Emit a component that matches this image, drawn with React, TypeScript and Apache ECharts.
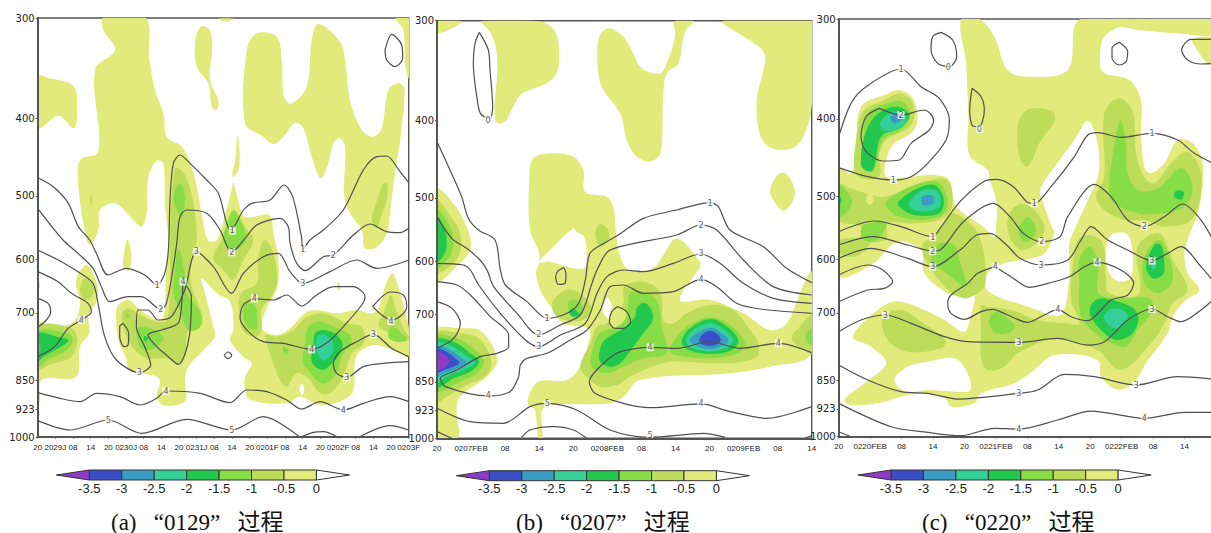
import React, { useEffect, useRef } from "react";
import * as echarts from "echarts";

type P = number[];
const pressureLevels = [300, 400, 500, 600, 700, 850, 923, 1000];
const colorLabels = ["-3.5", "-3", "-2.5", "-2", "-1.5", "-1", "-0.5", "0"];
const barColors = ["#8E3CC8", "#3B4FC4", "#3A9CC4", "#35D09A", "#22C84E", "#88DC45", "#BDDC5A", "#E3EA7C"];

const aTicks = ["20","2029J","08","14","20","0230J","08","14","20","0231J","08","14","20","0201F","08","14","20","0202F","08","14","20","0203F"];
const bTicks = ["20","0207FEB","08","14","20","0208FEB","08","14","20","0209FEB","08","14"];
const cTicks = ["20","0220FEB","08","14","20","0221FEB","08","14","20","0222FEB","08","14",""];

// ---------- panel (a): areas, horizontal position along the time axis, vertical = log-pressure coordinate
const aYellow: P[][] = [
[[113,230],[150,235],[220,258],[231,320],[222,385],[175,347],[113,385]],
[[310,54],[437,54],[447,170],[465,270],[490,340],[500,410],[545,440],[575,500],[592,570],[606,650],[625,722],[648,722],[665,680],[700,545],[697,520],[706,480],[712,405],[718,440],[716,510],[700,535],[712,590],[735,650],[808,645],[820,700],[835,780],[832,860],[800,925],[785,985],[830,1005],[875,980],[915,940],[950,930],[1010,940],[1070,930],[1115,940],[1135,925],[1155,860],[1177,820],[1195,860],[1215,935],[1226,980],[1226,1070],[1200,1060],[1130,1035],[1085,1050],[1065,1080],[1060,1170],[1030,1200],[960,1215],[900,1190],[860,1210],[750,1200],[735,1170],[735,1130],[755,1090],[730,1070],[690,1020],[700,990],[690,905],[650,880],[605,835],[615,880],[640,980],[645,1010],[610,1050],[565,1100],[555,1140],[558,1200],[530,1215],[490,1215],[470,1190],[480,1145],[470,1130],[420,1120],[385,1110],[380,1080],[355,1020],[348,945],[355,915],[385,900],[420,930],[470,960],[490,950],[498,820],[505,720],[495,620],[490,490],[470,482],[445,530],[440,640],[425,680],[400,660],[345,610],[300,630],[295,690],[270,735],[258,712],[235,560],[240,480],[295,455],[285,210],[345,150],[310,90]],
[[382,718],[395,770],[385,812],[370,800],[372,760]],
[[585,130],[600,82],[625,85],[637,130],[630,240],[655,300],[650,330],[635,320],[625,250],[590,200]],
[[655,56],[700,56],[680,65]],
[[735,370],[740,150],[770,100],[830,110],[845,180],[852,290],[875,310],[920,260],[935,120],[955,72],[1020,125],[1035,180],[1050,300],[1085,390],[1120,410],[1145,385],[1165,270],[1195,250],[1213,265],[1203,400],[1185,520],[1170,640],[1160,700],[1130,742],[1095,745],[1085,690],[1050,640],[1033,590],[1035,440],[1020,415],[1000,430],[985,490],[962,535],[935,470],[910,385],[885,368],[850,410],[820,432],[790,410]],
[[1187,54],[1226,54],[1226,235],[1215,190],[1210,90]],
[[113,960],[135,975],[215,970],[240,915],[228,840],[260,795],[290,850],[290,905],[265,945],[268,1000],[240,1040],[228,1130],[125,1140],[120,1205],[113,1205]],
[[113,830],[120,855],[113,880]],
[[1015,845],[1022,868],[1012,868]],
];
const aWhite: P[][] = [[[905,1150],[913,1168],[906,1186],[899,1168]]];
const aOlive: P[][] = [
[[510,720],[525,505],[552,520],[578,600],[590,720],[572,780],[575,860],[590,900],[607,950],[600,980],[565,990],[555,1060],[535,1095],[500,1075],[440,1075],[400,1045],[375,1000],[365,945],[385,925],[420,945],[470,965],[500,960],[510,840]],
[[700,630],[735,680],[760,720],[725,790],[700,840],[670,810],[640,775],[665,720]],
[[795,720],[820,760],[832,840],[820,880],[785,930],[785,990],[770,1010],[735,1000],[720,960],[722,880],[770,850],[775,770]],
[[795,1005],[830,1010],[880,990],[915,955],[960,940],[1000,950],[1040,970],[1085,980],[1092,1030],[1055,1060],[1030,1130],[990,1180],[960,1180],[925,1135],[890,1120],[860,1160],[835,1130],[810,1060]],
[[1172,885],[1185,920],[1210,985],[1226,1010],[1226,1020],[1150,990],[1135,975],[1155,930]],
[[1150,550],[1162,550],[1160,600],[1140,660],[1130,685],[1115,660],[1125,620]],
[[273,585],[278,600],[273,618],[271,600]],
[[255,835],[275,850],[285,870],[265,900],[245,890],[240,865]],
[[113,980],[215,985],[232,1020],[215,1070],[160,1090],[113,1105]],
];
const aGreen15: P[][] = [
[[540,550],[555,590],[545,650],[525,615],[522,580]],
[[535,745],[552,810],[560,880],[590,920],[605,950],[598,985],[565,990],[540,930],[520,880],[525,810]],
[[412,985],[450,985],[490,1010],[480,1030],[450,1050],[420,1040]],
[[378,940],[390,948],[382,955]],
[[700,632],[725,670],[738,720],[700,752],[670,720],[685,660]],
[[735,915],[765,915],[772,960],[770,985],[745,985],[730,950]],
[[925,980],[960,965],[1000,980],[1050,1005],[1052,1035],[1030,1060],[1005,1125],[965,1150],[920,1105],[908,1085],[915,1030]],
[[850,1040],[865,1050],[860,1065],[850,1055]],
[[1175,980],[1205,1000],[1222,1020],[1190,1025],[1165,1010]],
[[113,995],[205,1000],[218,1020],[200,1050],[150,1075],[113,1100]],
];
const aGreen2: P[][] = [
[[432,1008],[445,1015],[435,1025]],
[[945,1000],[970,990],[1010,1005],[1028,1035],[1010,1075],[985,1100],[965,1110],[935,1085],[940,1040]],
[[113,1000],[170,1010],[205,1020],[175,1045],[130,1070],[113,1085]],
];
const aTeal: P[][] = [
[[955,1005],[985,1010],[1002,1040],[985,1075],[965,1080],[950,1050]],
[[113,1030],[122,1045],[113,1065]],
];
const aContours: P[][] = [
[[113,533],[160,560],[205,610],[235,680],[269,720],[289,760],[324,825],[379,805],[434,825],[471,855],[494,820],[505,750],[510,600],[520,490],[540,465],[570,490],[620,540],[655,580],[680,670],[692,690],[730,630],[755,610],[810,600],[852,555],[878,590],[905,715],[908,748],[930,720],[970,690],[1030,630],[1090,510],[1130,470],[1160,468],[1200,515],[1226,548]],
[[113,625],[189,720],[234,760],[279,805],[304,860],[329,905],[384,890],[424,890],[482,928],[499,910],[520,800],[530,730],[540,650],[560,630],[620,640],[660,690],[695,757],[735,715],[770,675],[840,655],[865,680],[870,730],[890,790],[915,812],[970,770],[1000,765],[1060,705],[1110,672],[1160,695],[1200,698],[1226,685]],
[[113,750],[184,785],[234,815],[279,850],[294,910],[314,1010],[349,1080],[418,1118],[452,1095],[434,1040],[409,980],[414,930],[444,930],[474,960],[514,950],[554,870],[589,755],[640,800],[695,880],[730,820],[790,770],[835,760],[870,815],[908,850],[990,815],[1070,780],[1130,805],[1226,780]],
[[113,815],[174,845],[214,880],[264,910],[274,935],[244,960],[204,985],[164,1040],[113,1070]],
[[113,895],[144,910],[152,935],[139,960],[113,982]],
[[549,845],[574,890],[569,1000],[554,1065],[535,1093],[505,1070],[470,1040],[444,1005],[484,990],[534,970],[544,920],[549,845]],
[[369,970],[386,1000],[384,1035],[372,1040],[359,1010],[359,980],[369,970]],
[[113,1178],[180,1195],[240,1205],[290,1180],[360,1190],[420,1215],[470,1195],[498,1173],[600,1180],[690,1208],[740,1170],[800,1175],[860,1200],[905,1227],[960,1205],[1030,1230],[1090,1210],[1170,1190],[1226,1205]],
[[113,1262],[210,1290],[325,1260],[425,1300],[560,1258],[695,1290],[790,1250],[900,1312]],
[[900,1312],[940,1297],[970,1295],[1010,1310]],
[[1080,1310],[1170,1277],[1226,1290]],
[[762,895],[730,915],[720,955],[745,995],[790,1025],[850,1030],[935,1048],[985,1025],[1030,980],[1085,915],[1095,890],[1060,860],[1000,860],[950,885],[905,918],[860,885],[820,900],[762,895]],
[[1118,920],[1170,876],[1210,885],[1220,920],[1205,945],[1175,960],[1145,945],[1118,920]],
[[1226,1070],[1175,1045],[1120,1003],[1070,1025],[1020,1055],[1000,1090],[1010,1120],[1040,1132],[1090,1100],[1150,1090],[1226,1085]],
[[672,1066],[684,1056],[695,1066],[684,1076],[672,1066]],
[[1155,150],[1175,103],[1205,135],[1208,175],[1185,200],[1160,180],[1155,150]],
];
const aLabels: P[] = [[697,692,1],[471,855,1],[908,748,1],[695,757,2],[482,928,2],[1000,765,2],[589,755,3],[418,1118,3],[908,850,3],[1120,1003,3],[1040,1132,3],[244,960,4],[549,845,4],[498,1173,4],[763,895,4],[1030,1230,4],[1173,963,4],[935,1048,4],[325,1260,5],[695,1290,5]];

// ---------- panel (b)
const bYellow: P[][] = [
[[81,62],[155,65],[81,100]],
[[215,64],[395,65],[435,95],[448,160],[440,220],[410,250],[360,270],[330,285],[305,330],[285,365],[255,362],[262,200],[255,130],[240,95]],
[[595,85],[640,110],[665,150],[695,205],[750,220],[770,190],[795,110],[795,62],[850,62],[825,95],[805,190],[770,220],[760,280],[755,440],[745,470],[715,485],[675,465],[650,420],[630,340],[575,260],[562,180],[568,110]],
[[940,62],[1205,62],[1205,320],[1180,410],[1145,445],[1085,445],[1050,405],[1040,300],[1060,210],[1065,165],[1040,135]],
[[1105,522],[1130,522],[1153,565],[1150,600],[1120,632],[1090,600],[1080,570]],
[[370,475],[430,460],[490,470],[520,510],[525,575],[590,590],[610,620],[618,700],[628,760],[650,805],[690,815],[735,800],[760,765],[800,715],[870,785],[870,800],[810,900],[900,900],[1000,940],[1080,990],[1130,970],[1170,880],[1205,815],[1205,1060],[1080,1100],[960,1120],[690,1140],[640,1190],[600,1210],[420,1215],[395,1235],[398,1315],[385,1315],[375,1230],[355,1215],[355,1190],[385,1145],[470,1140],[510,1100],[540,1010],[535,985],[460,970],[430,930],[395,880],[378,820],[388,785],[385,750],[360,690],[358,530]],
[[81,568],[130,610],[170,680],[182,720],[180,750],[150,790],[81,842]],
[[81,990],[150,985],[215,995],[262,1080],[230,1130],[150,1190],[140,1230],[143,1315],[81,1315]],
];
const bWhite: P[][] = [
[[388,787],[425,745],[490,685],[500,695],[522,710],[530,770],[525,803],[490,805],[420,785]],
[[592,893],[605,920],[595,955],[578,930]],
];
const bOlive: P[][] = [
[[81,605],[130,660],[150,700],[152,750],[130,790],[81,815]],
[[81,1000],[150,1000],[205,1015],[245,1085],[225,1130],[180,1150],[110,1190],[81,1205]],
[[470,870],[510,880],[545,925],[520,960],[470,960],[435,945],[428,905]],
[[570,672],[593,688],[596,720],[570,740],[556,700]],
[[640,862],[680,845],[730,855],[755,890],[760,960],[790,970],[830,940],[900,915],[970,930],[1020,990],[1045,1030],[1040,1070],[950,1090],[790,1085],[740,1095],[660,1130],[620,1155],[570,1160],[530,1130],[510,1100],[545,1020],[560,980],[590,970],[640,910]],
[[1205,945],[1165,985],[1145,1010],[1165,1040],[1205,1058]],
];
const bYellow2: P[][] = [[[600,950],[640,925],[645,965],[625,985],[600,975]]];
const bGreen15: P[][] = [
[[81,630],[120,680],[130,730],[118,770],[81,800]],
[[81,1010],[140,1015],[190,1045],[222,1085],[200,1120],[150,1145],[81,1172]],
[[475,905],[500,900],[520,925],[500,955],[480,945]],
[[660,880],[700,875],[740,900],[755,980],[770,1060],[700,1075],[640,1100],[590,1120],[545,1100],[545,1060],[570,1000],[620,980],[650,950]],
[[900,952],[960,975],[1005,1030],[985,1060],[900,1075],[830,1070],[780,1055],[800,1010],[840,975]],
[[1205,985],[1185,1010],[1205,1035]],
];
const bGreen2: P[][] = [
[[81,650],[105,690],[108,750],[81,785]],
[[81,1020],[140,1030],[180,1060],[208,1085],[180,1115],[130,1135],[81,1160]],
[[487,925],[497,930],[510,945],[490,950],[478,938]],
[[700,908],[722,925],[728,960],[700,1000],[670,1040],[630,1090],[600,1100],[570,1085],[572,1040],[590,1015],[640,985],[675,950],[680,925]],
[[900,957],[945,975],[985,1020],[965,1050],[900,1062],[835,1050],[815,1025],[840,985]],
];
const bTeal: P[][] = [
[[81,1030],[130,1040],[165,1065],[195,1088],[165,1108],[110,1130],[81,1145]],
[[900,970],[945,990],[970,1022],[945,1045],[900,1055],[850,1045],[828,1022],[850,990]],
];
const bSteel: P[][] = [
[[81,1040],[120,1050],[150,1070],[170,1088],[145,1105],[100,1120],[81,1130]],
[[900,983],[935,1000],[955,1022],[930,1040],[900,1047],[865,1040],[840,1022],[860,1000]],
];
const bBlue: P[][] = [
[[81,1048],[110,1055],[135,1075],[148,1088],[125,1102],[90,1115],[81,1118]],
[[900,992],[925,1005],[932,1022],[915,1035],[900,1037],[880,1035],[868,1022],[875,1005]],
];
const bPurple: P[][] = [[[81,1058],[105,1065],[118,1085],[100,1105],[81,1110]]];
const bContours: P[][] = [
[[208,97],[235,150],[240,210],[248,320],[240,355],[215,345],[205,320],[190,190],[195,130],[208,97]],
[[81,425],[120,510],[155,590],[175,655],[205,690],[255,720],[271,810],[286,855],[351,905],[411,955],[471,940],[506,910],[526,840],[540,760],[590,725],[625,705],[700,655],[800,630],[900,608],[925,620],[960,690],[1060,740],[1130,805],[1205,848]],
[[81,650],[125,715],[170,745],[210,780],[231,810],[251,860],[321,940],[386,1005],[451,975],[511,945],[546,850],[561,810],[600,750],[800,705],[873,675],[920,690],[1000,780],[1090,860],[1205,885]],
[[81,790],[160,795],[181,810],[206,855],[271,940],[346,1020],[386,1040],[451,1005],[526,970],[561,880],[591,830],[640,810],[700,815],[790,790],[873,762],[930,790],[1000,850],[1090,895],[1205,910]],
[[81,845],[141,855],[181,885],[241,950],[296,1005],[296,1040],[261,1060],[211,1070],[141,1110],[91,1135],[106,1160],[235,1188],[300,1175],[326,1130],[331,1095],[351,1075],[411,1060],[481,1020],[531,990],[571,930],[600,860],[640,855],[700,880],[790,875],[873,838],[920,860],[980,910],[1050,927],[1205,940]],
[[81,905],[126,925],[151,970],[131,1015],[81,1045]],
[[1205,1058],[1105,1030],[990,1045],[900,1025],[800,1045],[720,1042],[680,1045],[620,1060],[560,1110],[538,1145],[555,1180],[640,1210],[720,1223],[873,1212],[960,1235],[1070,1255],[1205,1220]],
[[462,803],[468,820],[465,850],[445,853],[437,830],[445,812],[462,803]],
[[622,920],[650,935],[662,965],[640,985],[615,985],[598,965],[605,935],[622,920]],
[[81,1225],[180,1265],[280,1270],[360,1220],[412,1210],[500,1230],[600,1290],[720,1312],[880,1300],[945,1312]],
[[81,1295],[130,1317]],
[[1185,1315],[1205,1307]],
[[335,1312],[360,1290],[430,1280],[490,1290],[530,1315]],
];
const bLabels: P[] = [[234,360,0],[411,955,1],[900,610,1],[386,1005,2],[873,675,2],[386,1040,3],[873,762,3],[235,1188,4],[720,1042,4],[873,838,4],[873,1212,4],[1105,1030,4],[412,1210,5],[720,1308,5]];

// ---------- panel (c)
const cYellow: P[][] = [
[[450,57],[505,57],[550,110],[590,210],[650,230],[770,210],[810,57],[1216,57],[1216,105],[1100,100],[980,90],[925,82],[880,110],[868,150],[875,215],[955,240],[990,300],[990,390],[1000,500],[1020,520],[1060,490],[1100,420],[1145,430],[1175,490],[1165,620],[1130,720],[1120,760],[1130,820],[1165,870],[1125,900],[1085,950],[1070,1000],[1005,1090],[975,1140],[925,1170],[870,1130],[860,1080],[730,1065],[670,1110],[610,1150],[510,1180],[490,1210],[420,1220],[400,1195],[320,1180],[200,1210],[120,1215],[100,1200],[160,1150],[225,1090],[180,1040],[125,1010],[220,915],[270,905],[340,930],[400,960],[460,995],[480,945],[490,880],[460,890],[410,880],[340,820],[330,750],[260,725],[180,795],[83,825],[83,505],[120,520],[135,440],[150,320],[220,285],[265,270],[305,295],[320,360],[300,400],[250,430],[228,470],[225,530],[300,530],[370,525],[415,540],[430,610],[457,640],[487,660],[522,685],[550,712],[555,680],[557,610],[537,540],[530,510],[475,465],[472,350],[465,190]],
[[1145,118],[1216,118],[1216,195],[1190,190],[1165,160]],
];
const cWhite: P[][] = [
[[830,362],[858,420],[863,520],[840,580],[790,690],[775,730],[775,830],[755,940],[715,945],[680,930],[620,910],[560,890],[525,865],[530,820],[580,790],[660,775],[700,760],[730,700],[722,680],[697,610],[687,570],[735,495],[790,420]],
[[250,1140],[290,1100],[350,1085],[430,1075],[465,1110],[480,1160],[470,1175],[350,1170],[285,1175]],
[[900,705],[945,700],[963,740],[960,830],[925,845],[895,820],[885,760]],
];
const cOlive: P[][] = [
[[670,325],[725,335],[730,365],[690,420],[650,500],[625,470],[620,380],[640,335]],
[[925,295],[965,335],[975,460],[1000,530],[1030,550],[1080,490],[1125,455],[1165,500],[1170,580],[1140,660],[1060,680],[1000,660],[940,660],[880,630],[855,590],[880,530],[880,340]],
[[155,335],[220,300],[265,280],[300,300],[310,350],[290,385],[225,420],[205,460],[205,530],[150,535],[130,510],[135,420]],
[[83,555],[120,565],[200,590],[240,585],[330,550],[395,535],[420,560],[420,630],[385,660],[300,670],[230,670],[225,720],[150,720],[150,680],[83,660]],
[[83,720],[175,720],[165,750],[130,770],[83,760]],
[[592,650],[625,612],[665,625],[697,670],[697,705],[670,735],[630,750],[595,710]],
[[335,735],[380,700],[420,640],[487,680],[512,730],[522,790],[520,860],[490,885],[460,895],[410,870],[350,790]],
[[215,950],[270,930],[330,965],[403,1020],[390,1045],[290,1055],[230,1020]],
[[510,915],[530,920],[600,930],[680,960],[760,970],[805,970],[780,900],[785,800],[800,720],[835,705],[875,730],[885,840],[890,875],[930,890],[985,880],[980,740],[1045,700],[1085,780],[1130,870],[1085,910],[1060,970],[1020,1030],[930,1110],[860,1050],[800,1030],[730,1015],[620,1060],[580,1100],[530,1110],[510,1070],[510,990]],
];
const cYellow2: P[][] = [[[175,580],[190,600],[175,615],[165,600]]];
const cGreen15: P[][] = [
[[928,362],[945,430],[950,520],[980,570],[1040,565],[1110,505],[1145,560],[1120,620],[1050,640],[980,640],[900,600],[895,550],[905,470]],
[[170,340],[230,310],[275,305],[298,345],[270,390],[215,420],[190,510],[165,515],[150,480],[155,420]],
[[230,600],[310,555],[380,545],[408,590],[400,640],[340,660],[265,650],[225,620]],
[[83,555],[122,600],[105,640],[83,650]],
[[150,690],[170,670],[225,670],[215,700],[190,725],[160,720]],
[[622,690],[648,652],[672,675],[672,705],[640,725]],
[[385,730],[430,735],[445,780],[465,860],[400,815],[360,790],[370,755]],
[[805,780],[835,740],[862,785],[862,880],[915,895],[1015,895],[1025,930],[980,990],[945,1040],[900,1030],[860,1005],[810,950],[805,840]],
[[1000,770],[1045,720],[1080,790],[1082,850],[1040,880],[1000,850]],
[[540,945],[560,935],[610,975],[600,995],[560,1000],[535,975]],
];
const cGreen2: P[][] = [
[[1095,572],[1118,575],[1112,598],[1090,590]],
[[190,350],[240,322],[275,325],[295,350],[265,385],[210,410],[185,510],[155,505],[150,470],[160,410]],
[[262,605],[320,565],[370,555],[398,595],[385,640],[310,645],[265,620]],
[[83,585],[92,600],[83,618]],
[[1030,735],[1050,735],[1060,790],[1055,825],[1025,835],[1005,800]],
[[855,900],[880,895],[960,920],[982,950],[965,1000],[920,1020],[880,1000],[840,950],[838,920]],
];
const cTeal: P[][] = [
[[208,365],[245,335],[278,340],[285,365],[250,390],[215,390]],
[[295,605],[335,570],[380,575],[385,620],[340,635],[300,625]],
[[1020,780],[1030,770],[1035,800],[1025,810]],
[[880,945],[910,925],[950,945],[935,975],[910,985],[885,965]],
];
const cSteel: P[][] = [
[[237,352],[265,340],[272,358],[250,370]],
[[333,590],[365,587],[367,610],[335,615]],
];
const cContours: P[][] = [
[[390,97],[425,120],[437,170],[415,200],[380,190],[360,150],[365,110],[390,97]],
[[483,265],[510,290],[520,330],[505,380],[485,378],[476,330],[483,265]],
[[925,127],[950,155],[945,185],[925,195],[903,175],[903,145],[925,127]],
[[1216,118],[1140,118],[1112,150],[1130,180],[1170,192],[1216,190]],
[[83,410],[120,310],[165,260],[270,207],[330,260],[385,295],[415,360],[405,420],[350,490],[300,530],[247,540],[170,530],[83,503]],
[[205,325],[270,345],[340,330],[368,360],[355,390],[300,430],[265,480],[215,483],[165,455],[150,410],[165,350],[205,325]],
[[83,695],[190,663],[270,680],[365,710],[387,685],[447,605],[517,545],[557,538],[607,560],[647,605],[670,610],[720,560],[790,470],[830,405],[860,398],[930,412],[1023,400],[1100,420],[1150,460],[1216,495]],
[[83,735],[185,710],[290,735],[365,753],[387,750],[457,665],[547,610],[597,650],[637,700],[692,725],[747,710],[770,650],[850,553],[900,590],[950,660],[1000,680],[1060,650],[1115,612],[1170,660],[1216,740]],
[[83,775],[180,745],[290,775],[365,800],[447,750],[497,705],[537,700],[587,735],[627,775],[690,795],[770,780],[810,720],[840,680],[890,720],[950,750],[1023,782],[1070,760],[1110,740],[1170,800],[1216,855]],
[[83,825],[170,795],[215,810],[245,845],[220,865],[170,870],[83,905]],
[[553,800],[500,820],[470,850],[420,885],[410,910],[420,940],[460,958],[510,935],[545,928],[590,945],[650,967],[700,945],[740,928],[780,950],[830,962],[870,930],[900,900],[950,885],[968,850],[930,810],[858,787],[820,800],[775,830],[710,850],[655,862],[600,830],[553,800]],
[[83,995],[150,960],[223,945],[300,970],[400,1010],[470,1025],[623,1027],[740,1015],[830,1035],[880,1025],[950,960],[1023,927],[1070,950],[1110,965],[1170,930],[1216,890]],
[[83,1095],[170,1140],[270,1175],[350,1180],[440,1197],[623,1180],[680,1170],[760,1123],[850,1130],[975,1155],[1100,1130],[1216,1138]],
[[83,1210],[240,1280],[350,1297],[450,1307],[550,1285],[623,1287],[740,1260],[840,1233],[1000,1255],[1120,1237],[1216,1237]],
[[83,1295],[120,1310]],
];
const cLabels: P[] = [[412,203,0],[505,387,0],[270,208,1],[247,540,1],[670,610,1],[1023,400,1],[365,712,1],[270,345,2],[365,753,2],[692,725,2],[1000,680,2],[365,800,3],[690,795,3],[1023,782,3],[223,945,3],[623,1027,3],[1023,927,3],[623,1180,3],[975,1155,3],[553,800,4],[858,787,4],[740,928,4],[1000,1255,4],[623,1287,4]];

const WHITE = "#ffffff";
const [PURPLE, BLUE, STEEL, TEAL, G2, G15, OLIVE, YELLOW] = barColors;

const panels = [
  { ticks: aTicks, x0: 113, x1: 1226, y0: 54, y1: 1311, left: 37.7, top: 18, width: 371, height: 419,
    fills: [[YELLOW, aYellow], [WHITE, aWhite], [OLIVE, aOlive], [G15, aGreen15], [G2, aGreen2], [TEAL, aTeal]],
    contours: aContours, labels: aLabels, barX: 89.3, barY: 475, capX: 111, cap: "(a)   “0129”   过程" },
  { ticks: bTicks, x0: 81, x1: 1205, y0: 62, y1: 1315, left: 437, top: 20.7, width: 374.7, height: 417.6,
    fills: [[YELLOW, bYellow], [WHITE, bWhite], [OLIVE, bOlive], [YELLOW, bYellow2], [G15, bGreen15], [G2, bGreen2], [TEAL, bTeal], [STEEL, bSteel], [BLUE, bBlue], [PURPLE, bPurple]],
    contours: bContours, labels: bLabels, barX: 489.3, barY: 475.7, capX: 516, cap: "(b)   “0207”   过程" },
  { ticks: cTicks, x0: 83, x1: 1215, y0: 57, y1: 1310, left: 838.7, top: 19, width: 377.3, height: 417.7,
    fills: [[YELLOW, cYellow], [WHITE, cWhite], [OLIVE, cOlive], [YELLOW, cYellow2], [G15, cGreen15], [G2, cGreen2], [TEAL, cTeal], [STEEL, cSteel]],
    contours: cContours, labels: cLabels, barX: 891, barY: 475, capX: 922, cap: "(c)   “0220”   过程" },
] as any[];

const AXIS = "#555";

function buildOption() {
  const grid: any[] = [], xAxis: any[] = [], yAxis: any[] = [], series: any[] = [], graphic: any[] = [];
  panels.forEach((p, i) => {
    grid.push({ left: p.left, top: p.top, width: p.width, height: p.height, show: true, borderColor: "#555", borderWidth: 1.4, backgroundColor: "#fff", outerBoundsMode: "none", containLabel: false });
    const step = (p.x1 - p.x0) / (p.ticks.length - 1);
    const xVals = p.ticks.map((_: string, k: number) => p.x0 + k * step);
    const xLabelVals = xVals.filter((_: number, k: number) => p.ticks[k] !== "");
    const toZ = (hpa: number) => p.y0 + ((p.y1 - p.y0) * Math.log(hpa / 300)) / Math.log(1000 / 300);
    const zVals = pressureLevels.map(toZ);
    xAxis.push({
      gridIndex: i, type: "value", min: p.x0, max: p.x1, z: 5,
      splitLine: { show: false },
      axisLine: { show: true, onZero: false, lineStyle: { color: AXIS, width: 2 } },
      axisTick: { show: true, length: 2, customValues: xVals, lineStyle: { color: AXIS, width: 0.6 } },
      axisLabel: {
        show: true, customValues: xLabelVals, margin: 6, fontSize: 8, color: "#222", showMinLabel: true, showMaxLabel: true,
        fontFamily: "'Liberation Sans',sans-serif",
        formatter: (v: number) => p.ticks[Math.round((v - p.x0) / step)],
      },
    });
    yAxis.push({
      gridIndex: i, type: "value", inverse: true, min: p.y0, max: p.y1, z: 5,
      splitLine: { show: false },
      axisLine: { show: true, onZero: false, lineStyle: { color: AXIS, width: 2 } },
      axisTick: { show: true, length: 2, customValues: zVals, lineStyle: { color: AXIS, width: 1 } },
      axisLabel: {
        show: true, customValues: zVals, margin: 3, fontSize: 10, color: "#222", showMinLabel: true, showMaxLabel: true, fontFamily: "'DejaVu Sans',sans-serif",
        formatter: (v: number) => {
          let best = 0;
          zVals.forEach((z: number, k: number) => { if (Math.abs(z - v) < Math.abs(zVals[best] - v)) best = k; });
          return String(pressureLevels[best]);
        },
      },
    });
    const polys: { color: string; pts: P[] }[] = [];
    p.fills.forEach(([color, list]: any) => list.forEach((pts: P[]) => polys.push({ color, pts })));
    series.push({
      type: "custom", xAxisIndex: i, yAxisIndex: i, coordinateSystem: "cartesian2d", clip: true, z: 2, silent: true,
      data: polys.map((q) => q.pts[0]),
      renderItem: (params: any, api: any) => {
        const q = polys[params.dataIndex];
        return {
          type: "polygon",
          shape: { points: q.pts.map((c) => api.coord(c)), smooth: 0.35 },
          style: { fill: q.color, stroke: "none" },
        };
      },
    });
    p.contours.forEach((c: P[]) => {
      series.push({
        type: "line", xAxisIndex: i, yAxisIndex: i, data: c, smooth: 0.3, symbol: "none", z: 3, silent: true,
        lineStyle: { color: "#505050", width: 1.2 },
      });
    });
    series.push({
      type: "scatter", xAxisIndex: i, yAxisIndex: i, data: p.labels, symbolSize: 1, z: 4, silent: true,
      itemStyle: { color: "rgba(0,0,0,0)" },
      label: {
        show: true, position: "inside", fontSize: 8, color: "#333", fontFamily: "'DejaVu Sans',sans-serif",
        backgroundColor: "rgba(255,255,255,0.9)", padding: [0, 1],
        formatter: (d: any) => String(d.value[2]),
      },
    });

    // colour bar
    const w = 32.45, h = 10, bx = p.barX, by = p.barY;
    barColors.slice(1).forEach((col: string, k: number) => {
      graphic.push({ type: "rect", shape: { x: bx + k * w, y: by - h / 2, width: w, height: h }, style: { fill: col, stroke: "#333", lineWidth: 1 } });
    });
    graphic.push({ type: "polygon", shape: { points: [[bx - 33, by], [bx, by - h / 2], [bx, by + h / 2]] }, style: { fill: PURPLE, stroke: "#333", lineWidth: 1 } });
    graphic.push({ type: "polygon", shape: { points: [[bx + 7 * w + 33, by], [bx + 7 * w, by - h / 2], [bx + 7 * w, by + h / 2]] }, style: { fill: "#fff", stroke: "#333", lineWidth: 1 } });
    colorLabels.forEach((t: string, k: number) => {
      graphic.push({ type: "text", x: bx + k * w, y: by + 13, style: { text: t, fontSize: 13, fill: "#222", fontFamily: "'Liberation Sans',sans-serif", align: "center", verticalAlign: "middle" } });
    });
    graphic.push({ type: "text", x: p.capX, y: 522, style: { text: p.cap, fontSize: 23, fill: "#111", fontFamily: "'Liberation Serif','Noto Sans CJK SC',serif", align: "left", verticalAlign: "middle" } });
  });
  return { animation: false, backgroundColor: "#fff", grid, xAxis, yAxis, series, graphic };
}

export default function App() {
  const ref = useRef<HTMLDivElement>(null);
  useEffect(() => {
    document.body.style.margin = "0";
    const chart = echarts.init(ref.current!, undefined, { renderer: "svg" });
    chart.setOption(buildOption() as any);
    return () => chart.dispose();
  }, []);
  return <div ref={ref} style={{ width: 1211, height: 533, overflow: "hidden" }} />;
}
